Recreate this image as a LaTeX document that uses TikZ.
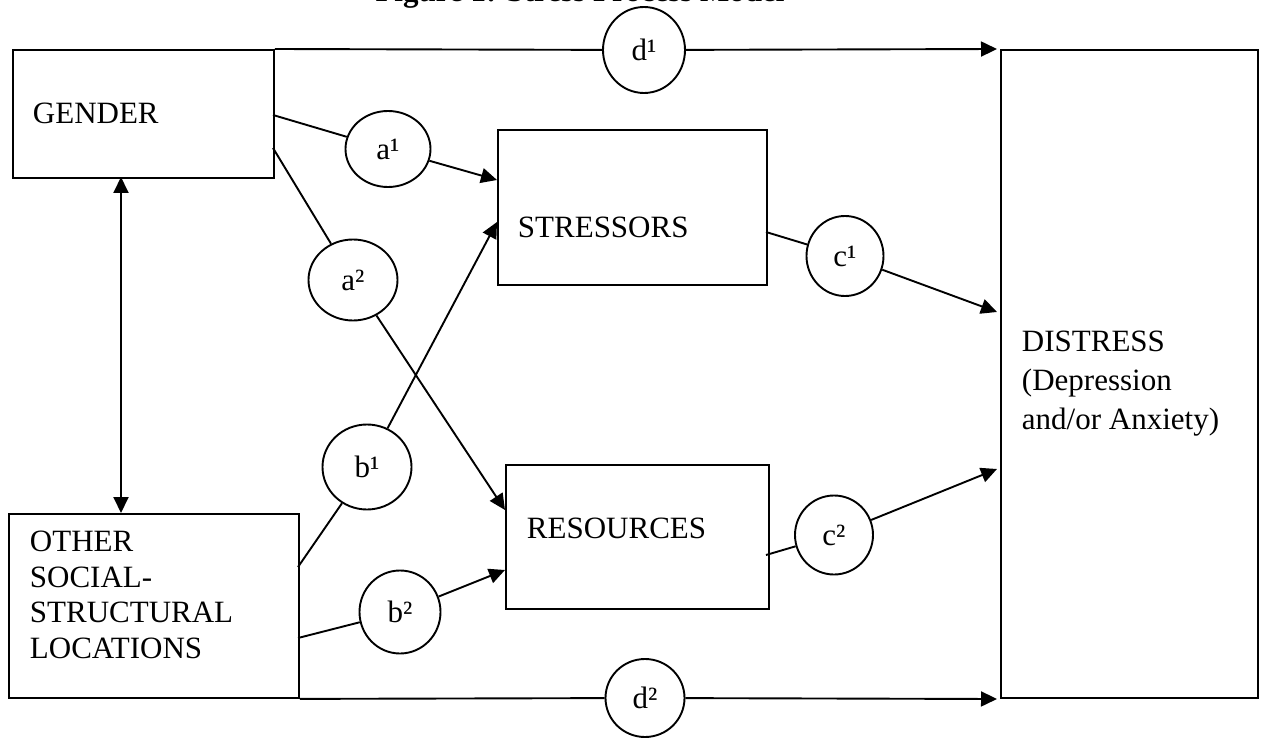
\documentclass[tikz,border=0pt]{standalone}
\usepackage{fontspec}
\setmainfont{Liberation Serif}
\usetikzlibrary{arrows.meta,shapes.geometric,calc}

\begin{document}
\begin{tikzpicture}[x=1pt,y=-1pt,>={Triangle[length=16pt,width=15pt]},line width=1.9pt,
    font=\fontsize{31}{36}\selectfont]
    \tikzstyle{box}=[draw, rectangle, inner sep=0pt, anchor=north west]
    \tikzstyle{circ}=[draw, ellipse, minimum width=82pt, minimum height=80pt, inner sep=0pt]
    \tikzstyle{lbl}=[anchor=base west, inner sep=0pt]

    \clip (0,0) rectangle (1261,738);
    \node[anchor=base, font=\fontsize{31}{36}\selectfont\bfseries] (title) at (580,1.5) {Figure 1: Stress Process Model};

    % boxes
    \node[box, minimum width=261pt, minimum height=128pt] (gender) at (12,49) {};
    \node[box, minimum width=290pt, minimum height=184pt] (other) at (8,513) {};
    \node[box, minimum width=269pt, minimum height=155pt] (stress) at (497,129) {};
    \node[box, minimum width=263pt, minimum height=144pt] (resour) at (505,464) {};
    \node[box, minimum width=257pt, minimum height=648pt] (distress) at (1000,49) {};

    \node[lbl] (tgender) at (32,124) {GENDER};
    \node[lbl] (tstress) at (517,238) {STRESSORS};
    \node[lbl] (tresour) at (526,538) {RESOURCES};
    \node[anchor=north west, inner sep=0pt, align=left, font=\fontsize{31}{35.5}\selectfont] (tother) at (29,530.5)
        {OTHER\\SOCIAL-\\STRUCTURAL\\LOCATIONS};
    \node[anchor=north west, inner sep=0pt, align=left, font=\fontsize{31}{39}\selectfont] (tdistress) at (1021,330.5)
        {DISTRESS\\(Depression\\and/or Anxiety)};

    % paths
    \node[circ, minimum width=85pt, minimum height=76pt] (a1) at (388,149) {a¹};
    \node[circ, minimum width=89pt, minimum height=81pt] (a2) at (353,280) {a²};
    \node[circ, minimum width=89pt, minimum height=85pt] (b1) at (367,467) {b¹};
    \node[circ, minimum width=81pt, minimum height=83pt] (b2) at (400,612) {b²};
    \node[circ, minimum width=77pt] (c1) at (845,256) {c¹};
    \node[circ, minimum width=78pt, minimum height=79pt] (c2) at (834,535) {c²};
    \node[circ, minimum height=86pt] (d1) at (644,50) {d¹};
    \node[circ, minimum width=79pt, minimum height=78pt] (d2) at (645,698) {d²};

    \coordinate (ga) at (273,115);
    \coordinate (gb) at (273,148);
    \coordinate (sa) at (497,180);
    \coordinate (sb) at (497,222);
    \coordinate (ra) at (505,510);
    \coordinate (rb) at (505,570);
    \coordinate (oa) at (298,567);
    \coordinate (ob) at (298,638);
    \coordinate (sc) at (766,232);
    \coordinate (rc) at (766,555);
    \coordinate (da) at (997,312);
    \coordinate (db) at (997,469);
    \coordinate (dd1) at (997,49);
    \coordinate (dd2) at (997,699);
    \coordinate (vg) at (121,177);
    \coordinate (vo) at (121,513);

    \draw (ga) -- (a1);
    \draw[->] (a1) -- (sa);
    \draw (gb) -- (a2);
    \draw[->] (a2) -- (ra);
    \draw (oa) -- (b1);
    \draw[->] (b1) -- (sb);
    \draw (ob) -- (b2);
    \draw[->] (b2) -- (rb);
    \draw (sc) -- (c1);
    \draw[->] (c1) -- (da);
    \draw (rc) -- (c2);
    \draw[->] (c2) -- (db);
    \draw (gender.north east) -- (d1);
    \draw[->] (d1) -- (dd1);
    \draw (other.south east) -- (d2);
    \draw[->] (d2) -- (dd2);
    \draw[<->] (vg) -- (vo);
\end{tikzpicture}
\end{document}
